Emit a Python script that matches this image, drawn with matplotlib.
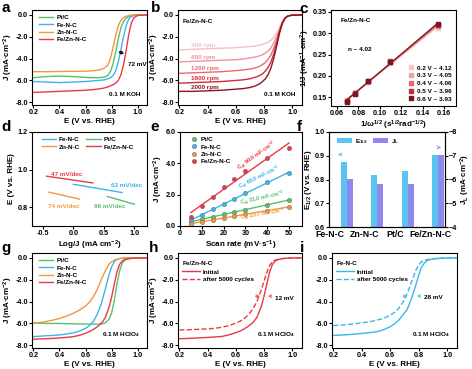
import numpy as np
import matplotlib
matplotlib.use('Agg')
import matplotlib.pyplot as plt
from matplotlib.ticker import FormatStrFormatter

plt.rcParams['font.family'] = ['Liberation Sans', 'DejaVu Sans']
plt.rcParams['font.weight'] = 'bold'
plt.rcParams['axes.labelweight'] = 'bold'
plt.rcParams['mathtext.default'] = 'regular'
plt.rcParams['axes.linewidth'] = 0.8
plt.rcParams['font.size'] = 5

GREEN, BLUE, ORANGE, RED = '#5DBE6A', '#3DB5EA', '#F2963F', '#E83A45'
TICK, LAB, SMALL = 5.2, 5.8, 4.6

# ---- a: LSV in 0.1 M KOH ----
E_a = [0.20, 0.30, 0.40, 0.50, 0.60, 0.65, 0.70, 0.74, 0.77, 0.79, 0.81,
       0.83, 0.85, 0.87, 0.89, 0.91, 0.93, 0.95, 0.97, 1.00, 1.07]
J_pt_a = [-5.75, -5.65, -5.6, -5.65, -5.72, -5.75, -5.75, -5.7, -5.55, -5.2, -4.5,
          -3.4, -2.2, -1.2, -0.6, -0.3, -0.15, -0.07, -0.03, 0.0, 0.0]
J_fe_a = [-6.1, -6.15, -6.2, -6.15, -6.1, -6.05, -6.0, -5.95, -5.85, -5.75, -5.55,
          -5.15, -4.3, -3.2, -2.0, -1.0, -0.4, -0.15, -0.05, 0.0, 0.0]
J_zn_a = [-5.2, -5.2, -5.18, -5.17, -5.15, -5.12, -5.05, -4.9, -4.6, -4.0, -3.0,
          -1.9, -1.0, -0.5, -0.25, -0.12, -0.06, -0.03, -0.01, 0.0, 0.0]
J_fezn_a = [-7.1, -7.05, -7.0, -6.95, -6.9, -6.85, -6.78, -6.7, -6.6, -6.5, -6.4,
            -6.25, -6.0, -5.5, -4.6, -3.3, -1.8, -0.75, -0.25, -0.05, 0.0]

# ---- b: Fe/Zn-N-C at different rotation speeds ----
rpm_labels = ['400 rpm', '800 rpm', '1200 rpm', '1600 rpm', '2000 rpm']
rpm_colors = ['#F6BEC0', '#F1959A', '#EA6870', '#D42A38', '#8E1520']
J_rpm = [
    [-3.2, -3.15, -3.1, -3.05, -3.0, -2.95, -2.9, -2.85, -2.75, -2.7, -2.6,
     -2.5, -2.3, -2.05, -1.7, -1.2, -0.6, -0.25, -0.1, -0.02, 0.0],
    [-4.3, -4.25, -4.2, -4.15, -4.1, -4.05, -3.95, -3.85, -3.75, -3.65, -3.5,
     -3.3, -3.0, -2.55, -2.0, -1.3, -0.65, -0.25, -0.1, -0.02, 0.0],
    [-5.35, -5.3, -5.25, -5.2, -5.1, -5.05, -4.95, -4.85, -4.7, -4.55, -4.35,
     -4.05, -3.65, -3.05, -2.3, -1.45, -0.7, -0.28, -0.1, -0.02, 0.0],
    [-6.25, -6.2, -6.15, -6.1, -6.0, -5.95, -5.85, -5.7, -5.55, -5.4, -5.15,
     -4.8, -4.3, -3.55, -2.6, -1.6, -0.75, -0.3, -0.1, -0.02, 0.0],
    [-7.0, -7.0, -6.95, -6.9, -6.8, -6.75, -6.65, -6.5, -6.3, -6.1, -5.85,
     -5.45, -4.85, -3.95, -2.85, -1.7, -0.8, -0.3, -0.1, -0.02, 0.0],
]

# ---- c: K-L plots ----
inv_omega = [0.0691, 0.0772, 0.0892, 0.1093, 0.1545]
kl_labels = ['0.2 V ~ 4.12', '0.3 V ~ 4.05', '0.4 V ~ 4.06', '0.5 V ~ 3.96', '0.6 V ~ 3.93']
kl_colors = ['#F5C6C8', '#EFA0A4', '#E06B73', '#B8323C', '#7A1820']
inv_J = [
    [0.143, 0.159, 0.186, 0.231, 0.313],
    [0.142, 0.160, 0.187, 0.232, 0.316],
    [0.142, 0.160, 0.188, 0.233, 0.318],
    [0.141, 0.160, 0.189, 0.234, 0.320],
    [0.140, 0.159, 0.189, 0.233, 0.322],
]

# ---- d: Tafel slopes ----
tafel_names = ['Fe-N-C', 'Zn-N-C', 'Pt/C', 'Fe/Zn-N-C']
tafel_colors = [BLUE, ORANGE, GREEN, RED]
tafel_x = [[0.0, 0.8], [-0.4, 0.1], [0.56, 1.0], [-0.44, 0.32]]
tafel_E = [[0.922, 0.878], [0.880, 0.843], [0.857, 0.816], [0.965, 0.929]]
tafel_text = ['62 mV/dec', '74 mV/dec', '96 mV/dec', '47 mV/dec']
tafel_text_xy = [(0.62, 0.915), (-0.42, 0.805), (0.34, 0.805), (-0.36, 0.975)]

# ---- e: double-layer capacitance ----
scan_rate = [5, 10, 15, 20, 25, 30, 40, 50]
dJ_pt = [0.25, 0.42, 0.6, 0.75, 0.9, 1.05, 1.35, 1.65]
dJ_fe = [0.38, 0.7, 1.06, 1.4, 1.72, 2.08, 2.82, 3.39]
dJ_zn = [0.15, 0.27, 0.4, 0.52, 0.62, 0.74, 0.98, 1.22]
dJ_fezn = [0.59, 1.27, 1.87, 2.5, 3.03, 3.52, 4.37, 5.0]
cdl_text = ['31.0', '68.8', '23.7', '99.0']

# ---- f: E1/2 and limiting current ----
catalysts = ['Fe-N-C', 'Zn-N-C', 'Pt/C', 'Fe/Zn-N-C']
E_half = [0.873, 0.820, 0.837, 0.905]
J_lim = [-6.0, -5.83, -5.82, -7.02]

# ---- g: LSV in 0.1 M HClO4 ----
E_g = [0.20, 0.25, 0.30, 0.35, 0.40, 0.45, 0.50, 0.55, 0.60, 0.63, 0.66, 0.69,
       0.72, 0.75, 0.78, 0.80, 0.82, 0.84, 0.86, 0.88, 0.90, 0.93, 0.96, 1.00, 1.07]
J_pt_g = [-5.95, -5.97, -6.0, -6.0, -6.0, -6.02, -6.03, -6.05, -6.05, -6.06, -6.07, -6.07,
          -6.05, -5.95, -5.6, -5.0, -3.9, -2.4, -1.2, -0.5, -0.2, -0.07, -0.03, 0.0, 0.0]
J_fe_g = [-7.2, -7.17, -7.13, -7.1, -7.05, -6.98, -6.88, -6.72, -6.45, -6.2, -5.8, -5.15,
          -4.2, -2.9, -1.5, -0.8, -0.35, -0.15, -0.07, -0.03, -0.01, 0.0, 0.0, 0.0, 0.0]
J_zn_g = [-6.0, -5.92, -5.82, -5.7, -5.55, -5.35, -5.1, -4.8, -4.4, -4.05, -3.55, -2.85,
          -2.0, -1.2, -0.55, -0.35, -0.2, -0.1, -0.05, -0.03, -0.01, 0.0, 0.0, 0.0, 0.0]
J_fezn_g = [-7.45, -7.42, -7.4, -7.37, -7.33, -7.28, -7.22, -7.1, -6.9, -6.75, -6.55, -6.3,
            -6.0, -5.5, -4.5, -3.55, -2.4, -1.3, -0.6, -0.28, -0.15, -0.07, -0.03, 0.0, 0.0]

# ---- h: Fe/Zn-N-C stability ----
J_h_init = [-7.4, -7.38, -7.35, -7.32, -7.28, -7.24, -7.2, -7.05, -6.85, -6.7, -6.5, -6.25,
            -5.95, -5.45, -4.5, -3.55, -2.4, -1.3, -0.6, -0.28, -0.15, -0.07, -0.03, 0.0, 0.0]
J_h_after = [-6.6, -6.58, -6.56, -6.53, -6.5, -6.45, -6.35, -6.2, -5.98, -5.8, -5.55, -5.2,
             -4.7, -4.0, -2.95, -2.15, -1.35, -0.7, -0.35, -0.2, -0.12, -0.06, -0.03, 0.0, 0.0]

# ---- i: Fe-N-C stability ----
J_i_init = [-7.1, -7.07, -7.03, -6.98, -6.92, -6.85, -6.77, -6.6, -6.3, -6.05, -5.7, -5.2,
            -4.7, -3.7, -2.5, -1.6, -0.85, -0.45, -0.25, -0.15, -0.1, -0.06, -0.03, -0.01, 0.0]
J_i_after = [-6.2, -6.15, -6.1, -6.03, -5.95, -5.85, -5.72, -5.55, -5.25, -4.98, -4.6, -4.05,
             -3.25, -2.2, -1.15, -0.65, -0.35, -0.22, -0.15, -0.1, -0.07, -0.04, -0.02, -0.01, 0.0]

W, H = 472, 369
fig = plt.figure(figsize=(W / 100, H / 100), dpi=100)


def add_ax(l, t, r, b):
    ax = fig.add_axes([l / W, 1 - b / H, (r - l) / W, (b - t) / H])
    ax.tick_params(direction='out', length=2, width=0.8, labelsize=TICK, pad=1.0)
    return ax


def lsv_axes(ax, ylabel=True):
    ax.set_xlim(0.19, 1.07)
    ax.set_ylim(-8.25, 0.45)
    ax.set_xticks([0.2, 0.4, 0.6, 0.8, 1.0])
    ax.set_yticks([0, -2, -4, -6, -8])
    ax.xaxis.set_major_formatter(FormatStrFormatter('%.1f'))
    ax.yaxis.set_major_formatter(FormatStrFormatter('%.1f'))
    ax.set_xlabel('E (V vs. RHE)', fontsize=LAB, labelpad=1)
    if ylabel:
        ax.set_ylabel('J (mA·cm$^{-2}$)', fontsize=LAB, labelpad=0.3)


def small_legend(ax, **kw):
    opts = dict(fontsize=SMALL, frameon=False, handlelength=2.2, labelspacing=0.3,
                borderaxespad=0.2, handletextpad=0.5)
    opts.update(kw)
    return ax.legend(**opts)


# a
ax = add_ax(32, 10, 147, 105)
for y, c, lab in [(J_pt_a, GREEN, 'Pt/C'), (J_fe_a, BLUE, 'Fe-N-C'),
                  (J_zn_a, ORANGE, 'Zn-N-C'), (J_fezn_a, RED, 'Fe/Zn-N-C')]:
    ax.plot(E_a, y, color=c, lw=1.0, label=lab)
lsv_axes(ax)
ax.yaxis.set_label_coords(-0.145, 0.5)
small_legend(ax, loc='upper left', bbox_to_anchor=(0.03, 0.99))
ax.annotate('', xy=(0.83, -3.3), xytext=(0.915, -3.6),
            arrowprops=dict(arrowstyle='<->', color='k', lw=0.6, mutation_scale=5))
ax.text(0.925, -4.5, '72 mV', fontsize=SMALL, ha='left', va='center')
ax.text(1.02, -7.3, '0.1 M KOH', fontsize=SMALL, ha='right', va='center')

# b
ax = add_ax(178, 10, 302, 105)
for y, c, lab in zip(J_rpm, rpm_colors, rpm_labels):
    ax.plot(E_a, y, color=c, lw=1.0)
    ax.text(0.28, y[1] + 0.12, lab, color=c, fontsize=SMALL, va='bottom')
lsv_axes(ax)
ax.text(0.22, -0.35, 'Fe/Zn-N-C', fontsize=SMALL, va='top')
ax.text(1.02, -7.3, '0.1 M KOH', fontsize=SMALL, ha='right', va='center')

# c
ax = add_ax(331, 10, 456, 106)
for y, c, lab in zip(inv_J, kl_colors, kl_labels):
    k, b0 = np.polyfit(inv_omega, y, 1)
    xs = np.array([inv_omega[0], inv_omega[-1]])
    ax.plot(xs, k * xs + b0, color=c, lw=0.8)
    ax.plot(inv_omega, y, 's', color=c, ms=2.5, label=lab)
ax.set_xlim(0.0545, 0.171)
ax.set_ylim(0.13, 0.354)
ax.set_xticks([0.06, 0.08, 0.10, 0.12, 0.14, 0.16])
ax.set_yticks([0.15, 0.20, 0.25, 0.30, 0.35])
ax.xaxis.set_major_formatter(FormatStrFormatter('%.2f'))
ax.yaxis.set_major_formatter(FormatStrFormatter('%.2f'))
ax.set_xlabel('1/ω$^{1/2}$ (s$^{1/2}$rad$^{-1/2}$)', fontsize=LAB, labelpad=1)
ax.set_ylabel('1/J (mA$^{-1}$·cm$^{2}$)', fontsize=LAB, labelpad=0.3)
ax.text(0.0635, 0.33, 'Fe/Zn-N-C', fontsize=SMALL, va='center')
ax.text(0.0705, 0.262, 'n ~ 4.02', fontsize=SMALL, va='center')
small_legend(ax, loc='lower right', handlelength=1, labelspacing=0.35, borderaxespad=0.3)

# d
ax = add_ax(32, 132, 147, 226)
for name, c, xs, es in zip(tafel_names, tafel_colors, tafel_x, tafel_E):
    ax.plot(xs, es, color=c, lw=1.0, label=name)
for t, c, (tx, ty) in zip(tafel_text, tafel_colors, tafel_text_xy):
    ax.text(tx, ty, t, color=c, fontsize=SMALL, va='center')
ax.set_xlim(-0.68, 1.21)
ax.set_ylim(0.7, 1.2)
ax.set_xticks([-0.5, 0.0, 0.5, 1.0])
ax.set_yticks([0.8, 1.0, 1.2])
ax.xaxis.set_major_formatter(FormatStrFormatter('%.1f'))
ax.yaxis.set_major_formatter(FormatStrFormatter('%.1f'))
ax.set_xlabel('Log/J (mA cm$^{-2}$)', fontsize=LAB, labelpad=1)
ax.set_ylabel('E (V vs. RHE)', fontsize=LAB, labelpad=0.3)
ax.yaxis.set_label_coords(-0.145, 0.5)
small_legend(ax, loc='upper left', ncol=2, columnspacing=1.0, bbox_to_anchor=(0.05, 0.99))

# e
ax = add_ax(180, 132, 302, 226)
series_e = [(dJ_pt, GREEN, 'Pt/C'), (dJ_fe, BLUE, 'Fe-N-C'),
            (dJ_zn, ORANGE, 'Zn-N-C'), (dJ_fezn, RED, 'Fe/Zn-N-C')]
text_off = [0.15, 0.2, -0.5, 0.25]
for (y, c, lab), cd, off in zip(series_e, cdl_text, text_off):
    k, b0 = np.polyfit(scan_rate, y, 1)
    xs = np.array([5, 50])
    ax.plot(xs, k * xs + b0, color=c, lw=1.0)
    ax.plot(scan_rate, y, 'o', color=c, ms=3.2, mec='#666666', mew=0.3, label=lab)
    ax.text(28, k * 28 + b0 + off, 'C$_{dl}$ ' + cd + ' mF·cm$^{-2}$', color=c, fontsize=4.0,
            rotation=np.degrees(np.arctan(k)), transform_rotates_text=True,
            rotation_mode='anchor', ha='left', va='bottom')
ax.set_xlim(0, 56)
ax.set_ylim(0, 6)
ax.set_xticks([0, 10, 20, 30, 40, 50])
ax.set_yticks([0, 2, 4, 6])
ax.yaxis.set_major_formatter(FormatStrFormatter('%.1f'))
ax.set_xlabel('Scan rate (mV·s$^{-1}$)', fontsize=LAB, labelpad=1)
ax.set_ylabel('J (mA·cm$^{-2}$)', fontsize=LAB, labelpad=0.3)
small_legend(ax, loc='upper left', handlelength=1, bbox_to_anchor=(0.06, 0.99))

# f
ax = add_ax(329, 132, 445, 227)
x = np.arange(len(catalysts))
bw = 0.2
b1 = ax.bar(x - bw / 2, E_half, bw, color='#5BC3F2', label='E$_{1/2}$')
ax.set_ylim(0.6, 1.0)
ax.set_xlim(-0.6, 3.24)
ax.set_yticks([0.6, 0.7, 0.8, 0.9, 1.0])
ax.yaxis.set_major_formatter(FormatStrFormatter('%.1f'))
ax.set_xticks(x)
ax.set_xticklabels([])
ax.tick_params(axis='x', length=0)
for pos, name in zip([-0.57, 0.56, 1.6, 2.76], catalysts):
    ax.text(pos, -0.035, name, transform=ax.get_xaxis_transform(), fontsize=6.3,
            ha='center', va='top')
ax.set_ylabel('E$_{1/2}$ (V vs. RHE)', fontsize=LAB, labelpad=0.3)
ax2 = ax.twinx()
b2 = ax2.bar(x + bw / 2, J_lim, bw, color='#8F88EE', label='J$_L$')
ax2.set_ylim(-4, -8)
ax2.set_yticks([-4, -5, -6, -7, -8])
ax2.tick_params(direction='out', length=2, width=0.8, labelsize=TICK, pad=1.0)
ax2.set_ylabel('J$_L$ (mA·cm$^{-2}$)', fontsize=LAB, labelpad=0.5)
small_legend(ax, handles=[b1, b2], loc='upper left', ncol=2, columnspacing=1.0,
             bbox_to_anchor=(0.04, 0.99))
ax.annotate('', xy=(-0.4, 0.905), xytext=(-0.1, 0.905),
            arrowprops=dict(arrowstyle='->', color='#5BC3F2', lw=0.7, mutation_scale=5))
ax.annotate('', xy=(3.2, 0.935), xytext=(2.95, 0.935),
            arrowprops=dict(arrowstyle='->', color='#8F88EE', lw=0.7, mutation_scale=5))

# g
ax = add_ax(32, 253, 147, 348)
for y, c, lab in [(J_pt_g, GREEN, 'Pt/C'), (J_fe_g, BLUE, 'Fe-N-C'),
                  (J_zn_g, ORANGE, 'Zn-N-C'), (J_fezn_g, RED, 'Fe/Zn-N-C')]:
    ax.plot(E_g, y, color=c, lw=1.0, label=lab)
lsv_axes(ax)
ax.yaxis.set_label_coords(-0.145, 0.5)
small_legend(ax, loc='upper left', bbox_to_anchor=(0.03, 0.99))
ax.text(1.02, -7.0, '0.1 M HClO$_4$', fontsize=SMALL, ha='right', va='center')

# h
ax = add_ax(178, 253, 302, 348)
ax.plot(E_g, J_h_init, color=RED, lw=1.0, label='Initial')
ax.plot(E_g, J_h_after, color=RED, lw=1.0, ls='--', label='after 5000 cycles')
lsv_axes(ax)
ax.text(0.22, -0.3, 'Fe/Zn-N-C', fontsize=SMALL, va='top')
small_legend(ax, loc='upper left', bbox_to_anchor=(0.0, 0.87), handlelength=2.8)
ax.annotate('', xy=(0.79, -3.5), xytext=(0.72, -3.5),
            arrowprops=dict(arrowstyle='->', color=RED, lw=0.6, mutation_scale=5))
ax.annotate('', xy=(0.81, -3.5), xytext=(0.87, -3.5),
            arrowprops=dict(arrowstyle='->', color=RED, lw=0.6, mutation_scale=5))
ax.text(0.875, -3.7, '12 mV', fontsize=SMALL, va='center')
ax.text(1.02, -7.0, '0.1 M HClO$_4$', fontsize=SMALL, ha='right', va='center')

# i
ax = add_ax(332, 253, 457, 348)
ax.plot(E_g, J_i_init, color=BLUE, lw=1.0, label='Initial')
ax.plot(E_g, J_i_after, color=BLUE, lw=1.0, ls='--', label='after 5000 cycles')
lsv_axes(ax, ylabel=False)
ax.text(0.22, -0.3, 'Fe-N-C', fontsize=SMALL, va='top')
small_legend(ax, loc='upper left', bbox_to_anchor=(0.0, 0.87), handlelength=2.8)
ax.annotate('', xy=(0.74, -3.5), xytext=(0.67, -3.5),
            arrowprops=dict(arrowstyle='->', color=BLUE, lw=0.6, mutation_scale=5))
ax.annotate('', xy=(0.77, -3.5), xytext=(0.83, -3.5),
            arrowprops=dict(arrowstyle='->', color=BLUE, lw=0.6, mutation_scale=5))
ax.text(0.835, -3.6, '28 mV', fontsize=SMALL, va='center')
ax.text(1.02, -7.0, '0.1 M HClO$_4$', fontsize=SMALL, ha='right', va='center')

for letter, px, py in [('a', 1, 1), ('b', 151, 1), ('c', 299, 2), ('d', 1, 120), ('e', 150, 120),
                       ('f', 297, 120), ('g', 1, 241), ('h', 149, 241), ('i', 300, 241)]:
    fig.text(px / W, 1 - py / H, letter, fontsize=11, fontweight='bold', va='top', ha='left')

fig.savefig('out.png', dpi=100)
